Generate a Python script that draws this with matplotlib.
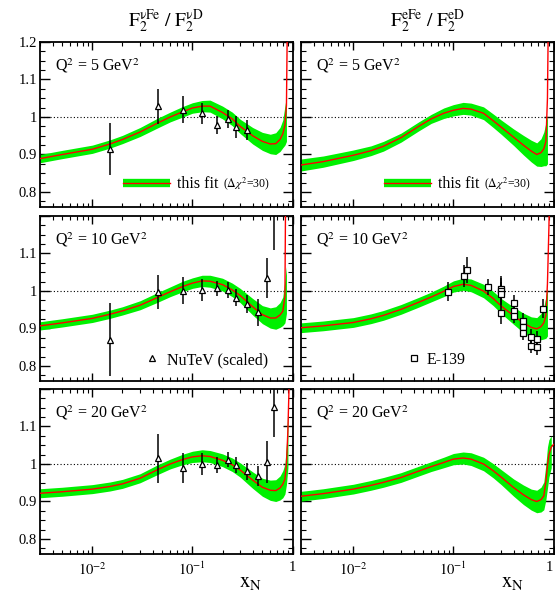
import numpy as np
import matplotlib
matplotlib.use('Agg')
import matplotlib.pyplot as plt
from matplotlib.ticker import MultipleLocator, LogLocator, FuncFormatter, NullFormatter

plt.rcParams['font.family'] = ['Liberation Serif', 'DejaVu Serif']
plt.rcParams['mathtext.fontset'] = 'stix'

nan = np.nan

# common x grid of the fit curves
x_grid = [0.003, 0.005, 0.01, 0.015, 0.02, 0.03, 0.045, 0.06, 0.08, 0.1, 0.125, 0.15,
          0.2, 0.25, 0.3, 0.4, 0.5, 0.6, 0.68, 0.75, 0.8, 0.84, 0.87, 0.9, 0.95, 1.0]

# neutrino Fe/D, Q2 = 5, 10, 20
nufe5_line = [0.889, 0.900, 0.914, 0.928, 0.940, 0.960, 0.984, 1.000, 1.014, 1.024, 1.029, 1.029,
              1.012, 0.995, 0.975, 0.950, 0.935, 0.928, 0.929, 0.940, 0.955, 0.978, 1.03, 1.40, 2.0, 3.0]
nufe5_lo = [0.878, 0.889, 0.903, 0.917, 0.929, 0.948, 0.971, 0.987, 1.000, 1.010, 1.014, 1.013,
            0.995, 0.977, 0.956, 0.928, 0.911, 0.902, 0.900, 0.908, 0.918, 0.925, 0.935, nan, nan, nan]
nufe5_hi = [0.900, 0.911, 0.925, 0.939, 0.951, 0.972, 0.997, 1.013, 1.028, 1.038, 1.044, 1.045,
            1.029, 1.013, 0.994, 0.972, 0.959, 0.954, 0.958, 0.972, 0.992, 1.030, 1.055, nan, nan, nan]

nufe10_line = [0.907, 0.915, 0.927, 0.938, 0.947, 0.962, 0.983, 0.998, 1.012, 1.021, 1.027, 1.026,
               1.017, 1.003, 0.988, 0.958, 0.937, 0.928, 0.928, 0.936, 0.946, 0.985, 1.60, 2.5, 3.0, 3.0]
nufe10_lo = [0.896, 0.904, 0.916, 0.927, 0.936, 0.950, 0.970, 0.985, 0.998, 1.007, 1.012, 1.010,
             1.000, 0.985, 0.969, 0.936, 0.913, 0.901, 0.898, 0.903, 0.908, 0.915, 0.940, nan, nan, nan]
nufe10_hi = [0.918, 0.926, 0.938, 0.949, 0.958, 0.974, 0.996, 1.011, 1.026, 1.035, 1.042, 1.042,
             1.034, 1.021, 1.007, 0.980, 0.961, 0.955, 0.958, 0.969, 0.984, 1.030, 1.065, nan, nan, nan]

nufe20_line = [0.922, 0.926, 0.933, 0.940, 0.947, 0.962, 0.985, 1.000, 1.012, 1.019, 1.022, 1.020,
               1.010, 0.998, 0.984, 0.957, 0.938, 0.930, 0.929, 0.936, 0.946, 0.960, 1.000, 1.090, 1.330, 2.0]
nufe20_lo = [0.910, 0.914, 0.921, 0.928, 0.935, 0.950, 0.972, 0.987, 0.998, 1.004, 1.006, 1.004,
             0.993, 0.980, 0.965, 0.935, 0.914, 0.903, 0.900, 0.904, 0.910, 0.920, 0.945, 0.990, nan, nan]
nufe20_hi = [0.934, 0.938, 0.945, 0.952, 0.959, 0.974, 0.998, 1.013, 1.026, 1.034, 1.038, 1.036,
             1.027, 1.016, 1.003, 0.979, 0.962, 0.957, 0.958, 0.968, 0.982, 1.000, 1.055, 1.160, nan, nan]

# charged lepton Fe/D, Q2 = 5, 10, 20
efe5_line = [0.872, 0.881, 0.898, 0.910, 0.922, 0.945, 0.975, 0.995, 1.010, 1.018, 1.023, 1.021,
             1.010, 0.990, 0.973, 0.946, 0.925, 0.909, 0.900, 0.905, 0.915, 0.935, 1.05, 1.40, 2.0, 3.0]
efe5_lo = [0.856, 0.866, 0.884, 0.897, 0.909, 0.933, 0.963, 0.983, 0.996, 1.003, 1.007, 1.005,
           0.993, 0.972, 0.954, 0.924, 0.899, 0.880, 0.869, 0.868, 0.870, 0.870, 0.875, nan, nan, nan]
efe5_hi = [0.888, 0.896, 0.912, 0.923, 0.935, 0.957, 0.987, 1.007, 1.024, 1.033, 1.039, 1.037,
           1.027, 1.008, 0.992, 0.968, 0.951, 0.938, 0.931, 0.942, 0.960, 0.985, 1.005, nan, nan, nan]

efe10_line = [0.902, 0.907, 0.916, 0.926, 0.935, 0.951, 0.970, 0.984, 0.999, 1.012, 1.018, 1.015,
              1.000, 0.980, 0.960, 0.934, 0.915, 0.903, 0.899, 0.905, 0.915, 0.935, 1.02, 1.17, 1.5, 2.0]
efe10_lo = [0.889, 0.894, 0.903, 0.913, 0.922, 0.938, 0.957, 0.971, 0.985, 0.997, 1.002, 0.998,
            0.982, 0.961, 0.940, 0.911, 0.889, 0.875, 0.869, 0.870, 0.872, 0.874, 0.880, nan, nan, nan]
efe10_hi = [0.915, 0.920, 0.929, 0.939, 0.948, 0.964, 0.983, 0.997, 1.013, 1.027, 1.034, 1.032,
            1.018, 0.999, 0.980, 0.957, 0.941, 0.931, 0.929, 0.940, 0.958, 0.985, 1.010, nan, nan, nan]

efe20_line = [0.914, 0.921, 0.933, 0.943, 0.951, 0.964, 0.981, 0.993, 1.004, 1.013, 1.016, 1.013,
              1.000, 0.982, 0.965, 0.937, 0.918, 0.905, 0.900, 0.905, 0.915, 0.955, 0.995, 1.025, 1.045, 1.052]
efe20_lo = [0.901, 0.908, 0.920, 0.930, 0.938, 0.951, 0.968, 0.980, 0.990, 0.998, 1.000, 0.996,
            0.982, 0.963, 0.945, 0.914, 0.892, 0.877, 0.870, 0.872, 0.878, 0.905, 0.935, 0.965, 0.990, nan]
efe20_hi = [0.927, 0.934, 0.946, 0.956, 0.964, 0.977, 0.994, 1.006, 1.018, 1.028, 1.032, 1.030,
            1.018, 1.001, 0.985, 0.960, 0.944, 0.933, 0.930, 0.938, 0.952, 1.000, 1.045, 1.065, 1.075, nan]

# NuTeV (scaled) data
nutev_x = [0.015, 0.045, 0.08, 0.125, 0.175, 0.225, 0.275, 0.35, 0.45, 0.55, 0.65]
nutev5_y = [0.915, 1.029, 1.019, 1.010, 0.979, 0.995, 0.974, 0.965]
nutev5_err = [0.070, 0.047, 0.036, 0.028, 0.024, 0.024, 0.030, 0.027]
nutev10_y = [0.870, 0.997, 1.000, 1.002, 1.007, 1.003, 0.982, 0.965, 0.943, 1.035, 1.30]
nutev10_err = [0.097, 0.045, 0.036, 0.029, 0.020, 0.021, 0.022, 0.025, 0.035, 0.053, 0.19]
nutev20_y = [1.015, 0.989, 1.000, 0.997, 1.011, 0.997, 0.980, 0.968, 1.006, 1.151]
nutev20_err = [0.065, 0.041, 0.030, 0.022, 0.020, 0.022, 0.022, 0.027, 0.056, 0.080]

# E-139 data (Q2 = 10 panel)
e139_x = [0.089, 0.129, 0.137, 0.22, 0.30, 0.30, 0.30, 0.30, 0.40, 0.40, 0.40,
          0.50, 0.50, 0.50, 0.59, 0.59, 0.69, 0.69, 0.79]
e139_y = [0.998, 1.040, 1.056, 1.011, 1.005, 1.000, 0.993, 0.942, 0.968, 0.946, 0.934,
          0.920, 0.904, 0.889, 0.878, 0.854, 0.872, 0.850, 0.953]
e139_err = [0.025, 0.030, 0.035, 0.022, 0.035, 0.035, 0.030, 0.030, 0.020, 0.020, 0.020,
            0.020, 0.020, 0.020, 0.020, 0.020, 0.020, 0.020, 0.025]

q2_labels = ['5', '10', '20']

GREEN = '#00f000'
RED = '#ff0000'

fig = plt.figure(figsize=(5.55, 5.97), dpi=100)

col_x = [40 / 555, 301 / 555]
col_w = 252.5 / 555
row_y = [1 - 207 / 597, 1 - 381 / 597, 1 - 554 / 597]
row_h = 165 / 597

lines = [[nufe5_line, nufe10_line, nufe20_line], [efe5_line, efe10_line, efe20_line]]
los = [[nufe5_lo, nufe10_lo, nufe20_lo], [efe5_lo, efe10_lo, efe20_lo]]
his = [[nufe5_hi, nufe10_hi, nufe20_hi], [efe5_hi, efe10_hi, efe20_hi]]
nutev = [(nutev_x[:8], nutev5_y, nutev5_err),
         (nutev_x, nutev10_y, nutev10_err),
         (nutev_x[1:], nutev20_y, nutev20_err)]


def xfmt(v, pos):
    if abs(v - 1) < 1e-9:
        return '1'
    return r'$10^{%d}$' % int(round(np.log10(v)))


bottom_right = None
for c in range(2):
    for r in range(3):
        ax = fig.add_axes([col_x[c], row_y[r], col_w, row_h])
        ax.set_xscale('log')
        ax.set_xlim(0.003, 1.0)
        ax.set_ylim(0.76, 1.2)

        ax.axhline(1.0, color='k', ls=(0, (1, 2)), lw=0.8, zorder=1)
        ax.fill_between(x_grid, np.array(los[c][r], dtype=float), np.array(his[c][r], dtype=float),
                        color=GREEN, lw=0, zorder=2)
        ax.plot(x_grid, lines[c][r], color=RED, lw=1.0, zorder=3)

        if c == 0:
            dx, dy, de = nutev[r]
            ax.errorbar(dx, dy, yerr=de, fmt='^', ms=5, mfc='white', mec='k', mew=0.9,
                        ecolor='k', elinewidth=1.1, capsize=0, zorder=5)
        if c == 1 and r == 1:
            ax.errorbar(e139_x, e139_y, yerr=e139_err, fmt='s', ms=5, mfc='white', mec='k',
                        mew=0.9, ecolor='k', elinewidth=1.1, capsize=0, zorder=5)

        ax.text(0.06, 0.828, r'Q$^2$ = %s GeV$^2$' % q2_labels[r], transform=ax.transAxes,
                fontsize=11.5, va='baseline', ha='left')

        # ticks
        ax.yaxis.set_major_locator(MultipleLocator(0.1))
        ax.yaxis.set_minor_locator(MultipleLocator(0.025))
        ax.xaxis.set_major_locator(LogLocator(base=10))
        ax.xaxis.set_minor_locator(LogLocator(base=10, subs=np.arange(2, 10)))
        ax.xaxis.set_minor_formatter(NullFormatter())
        ax.tick_params(which='both', direction='in', top=True, right=True, labelsize=10.5)
        ax.tick_params(axis='y', which='major', length=7, width=1.0, pad=2)
        ax.tick_params(axis='y', which='minor', length=3.5, width=0.8)
        ax.tick_params(axis='x', which='major', length=6, width=1.0, pad=5)
        ax.tick_params(axis='x', which='minor', length=3, width=0.8)
        for s in ax.spines.values():
            s.set_linewidth(1.3)

        if c == 0:
            top_lab = (r == 0)
            ax.yaxis.set_major_formatter(FuncFormatter(
                lambda v, p, t=top_lab: '' if (v > 1.15 and not t) else ('%g' % round(v, 2))))
        else:
            ax.yaxis.set_major_formatter(NullFormatter())

        if r == 2:
            ax.xaxis.set_major_formatter(FuncFormatter(xfmt))
            if c == 1:
                bottom_right = ax
        else:
            ax.xaxis.set_major_formatter(NullFormatter())

        # legends
        if r == 0:
            ax.plot([0.327, 0.515], [0.145, 0.145], transform=ax.transAxes, color=GREEN, lw=6,
                    solid_capstyle='butt', zorder=6)
            ax.plot([0.327, 0.515], [0.145, 0.145], transform=ax.transAxes, color=RED, lw=1.0,
                    zorder=7)
            t1 = ax.text(0.543, 0.115, 'this fit', transform=ax.transAxes, fontsize=11.5,
                         va='baseline', ha='left')
            ax.annotate(r'($\Delta\chi^2$=30)', xy=(1, 0), xycoords=t1, xytext=(3, 0),
                        textcoords='offset points', fontsize=8.5, va='bottom', ha='left')
        if r == 1 and c == 0:
            ax.plot([0.4436], [0.14], marker='^', ms=4, mfc='white', mec='k', mew=0.9,
                    transform=ax.transAxes, ls='none')
            ax.text(0.503, 0.102, 'NuTeV (scaled)', transform=ax.transAxes, fontsize=11.5,
                    va='baseline', ha='left')
        if r == 1 and c == 1:
            ax.plot([0.4457], [0.14], marker='s', ms=4, mfc='white', mec='k', mew=0.9,
                    transform=ax.transAxes, ls='none')
            ax.text(0.498, 0.102, 'E-139', transform=ax.transAxes, fontsize=11.5,
                    va='baseline', ha='left')

fig.text(166 / 555, 1 - 27 / 597, r'$\mathrm{F_2^{\nu Fe}\ /\ F_2^{\nu D}}$', fontsize=14,
         ha='center', va='baseline')
fig.text(428 / 555, 1 - 27 / 597, r'$\mathrm{F_2^{eFe}\ /\ F_2^{eD}}$', fontsize=14,
         ha='center', va='baseline')
fig.text(239 / 555, 1 - 587 / 597, r'$\mathrm{x_N}$', fontsize=15, ha='left', va='baseline')
fig.text(501 / 555, 1 - 587 / 597, r'$\mathrm{x_N}$', fontsize=15, ha='left', va='baseline')

# keep the "1" at the right edge inside the figure
fig.canvas.draw()
for lab in bottom_right.get_xticklabels():
    if lab.get_text() == '1':
        lab.set_horizontalalignment('right')

fig.savefig('out.png', dpi=100)
